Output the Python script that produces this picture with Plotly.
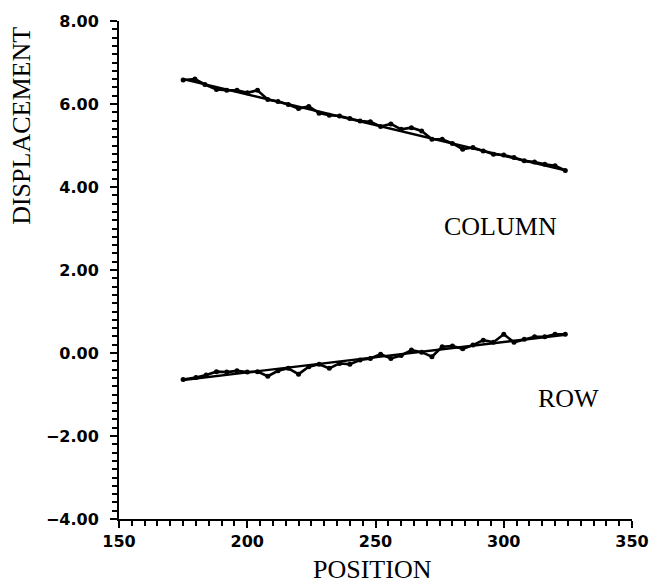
import plotly.graph_objects as go

# Data
col_x = [175, 179.6, 183.5, 188, 192, 196, 200, 204, 208, 212, 216, 220, 224, 228, 232, 236,
         240, 244, 248, 252, 256, 260, 264, 268, 272, 276, 280, 284, 288, 292, 296, 300,
         304, 308, 312, 316, 320, 324]
col_y = [6.58, 6.60, 6.47, 6.35, 6.33, 6.33, 6.27, 6.33, 6.11, 6.06, 5.99, 5.89, 5.94, 5.78,
         5.73, 5.71, 5.65, 5.59, 5.57, 5.46, 5.52, 5.39, 5.43, 5.35, 5.15, 5.15, 5.05, 4.91,
         4.95, 4.87, 4.79, 4.77, 4.71, 4.63, 4.60, 4.55, 4.51, 4.40]
row_x = [175, 180, 184, 188, 192, 196, 200, 204, 208, 212, 216, 220, 224, 228, 232, 236,
         240, 244, 248, 252, 256, 260, 264, 268, 272, 276, 280, 284, 288, 292, 296, 300,
         304, 308, 312, 316, 320, 324]
row_y = [-0.64, -0.59, -0.53, -0.45, -0.46, -0.43, -0.46, -0.45, -0.56, -0.43, -0.37, -0.51,
         -0.33, -0.27, -0.37, -0.25, -0.27, -0.17, -0.13, -0.03, -0.13, -0.06, 0.07, 0.02,
         -0.09, 0.15, 0.17, 0.10, 0.19, 0.31, 0.26, 0.45, 0.26, 0.33, 0.39, 0.39, 0.45, 0.45]
fit_x = [175, 324]
col_fit = [6.60, 4.40]
row_fit = [-0.65, 0.44]

fig = go.Figure()
for xs, ys in [(fit_x, col_fit), (fit_x, row_fit)]:
    fig.add_trace(go.Scatter(x=xs, y=ys, mode="lines",
                             line=dict(color="black", width=2.4), showlegend=False))
for xs, ys in [(col_x, col_y), (row_x, row_y)]:
    fig.add_trace(go.Scatter(x=xs, y=ys, mode="lines+markers",
                             line=dict(color="black", width=2.6),
                             marker=dict(color="black", size=5), showlegend=False))

tick_font = dict(family="DejaVu Sans", size=16, color="black", weight="bold")
serif = dict(family="Liberation Serif", size=26, color="black")

fig.update_xaxes(range=[150, 350], dtick=50, tick0=150, showgrid=False, zeroline=False,
                 showline=True, linecolor="black", linewidth=2,
                 ticks="outside", ticklen=7, tickwidth=2, tickcolor="black",
                 tickfont=tick_font,
                 minor=dict(dtick=5, ticks="outside", ticklen=5, tickwidth=1.5,
                            tickcolor="black", showgrid=False))
fig.update_yaxes(range=[-4, 8], dtick=2, tick0=0, tickformat=".2f", showgrid=False,
                 zeroline=False, showline=True, linecolor="black", linewidth=2,
                 ticks="outside", ticklen=7, tickwidth=2, tickcolor="black",
                 tickfont=tick_font, ticklabelstandoff=8,
                 minor=dict(dtick=0.2, ticks="outside", ticklen=5, tickwidth=1.5,
                            tickcolor="black", showgrid=False))

fig.add_annotation(x=298.8, y=3.06, xref="x", yref="y", text="COLUMN", showarrow=False,
                   font=serif, xanchor="center", yanchor="middle")
fig.add_annotation(x=325.3, y=-1.09, xref="x", yref="y", text="ROW", showarrow=False,
                   font=serif, xanchor="center", yanchor="middle")
fig.add_annotation(x=-0.1905, y=0.790, xref="paper", yref="paper", text="DISPLACEMENT",
                   textangle=-90, showarrow=False, font=serif,
                   xanchor="center", yanchor="middle")
fig.add_annotation(x=0.494, y=-0.102, xref="paper", yref="paper", text="POSITION",
                   showarrow=False, font=serif, xanchor="center", yanchor="middle")

fig.update_layout(width=661, height=586, plot_bgcolor="white", paper_bgcolor="white",
                  margin=dict(l=119, r=28, t=16, b=67), showlegend=False)

fig.write_html("out.html", config={"displayModeBar": False},
               post_script="document.body.style.margin='0';document.body.style.overflow='hidden';")
